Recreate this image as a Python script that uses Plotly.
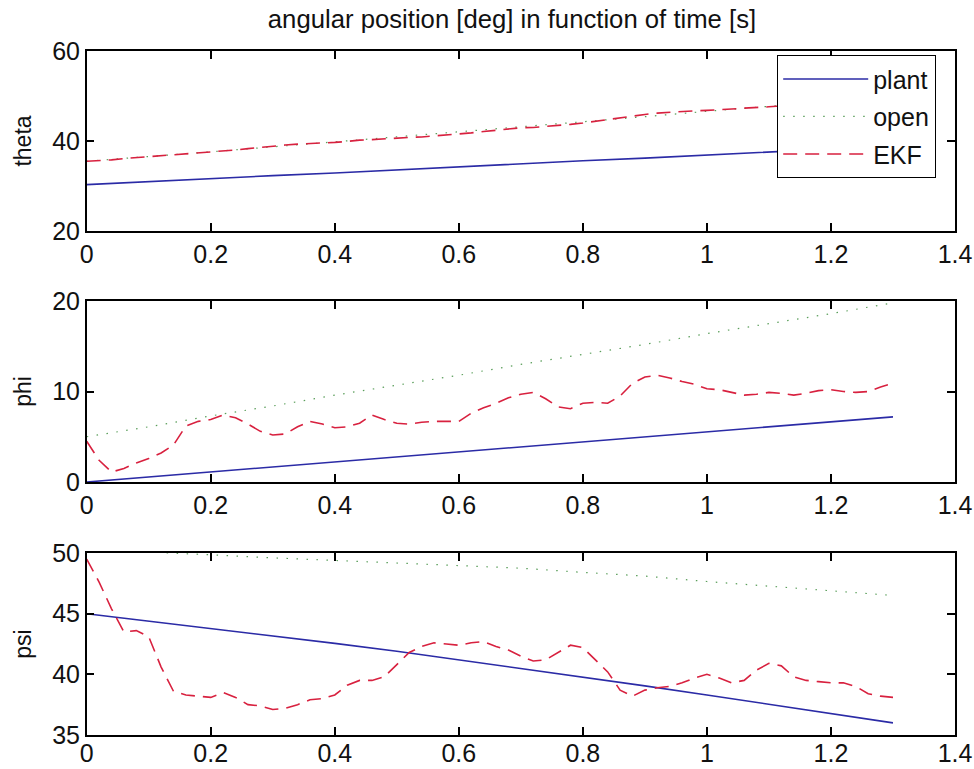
import plotly.graph_objects as go

# ---------------- data ----------------
t = [0.00, 0.02, 0.04, 0.06, 0.08, 0.10, 0.12, 0.14, 0.16, 0.18,
     0.20, 0.22, 0.24, 0.26, 0.28, 0.30, 0.32, 0.34, 0.36, 0.38,
     0.40, 0.42, 0.44, 0.46, 0.48, 0.50, 0.52, 0.54, 0.56, 0.58,
     0.60, 0.62, 0.64, 0.66, 0.68, 0.70, 0.72, 0.74, 0.76, 0.78,
     0.80, 0.82, 0.84, 0.86, 0.88, 0.90, 0.92, 0.94, 0.96, 0.98,
     1.00, 1.02, 1.04, 1.06, 1.08, 1.10, 1.12, 1.14, 1.16, 1.18,
     1.20, 1.22, 1.24, 1.26, 1.28, 1.30]

t_coarse = [0.0, 0.1, 0.2, 0.3, 0.4, 0.5, 0.6, 0.7, 0.8, 0.9, 1.0, 1.1, 1.2, 1.3]

theta_plant = [30.3, 31.0, 31.6, 32.3, 32.9, 33.6, 34.3, 34.9, 35.6, 36.2, 36.9, 37.6, 38.2, 38.9]
theta_open = [35.5, 36.5, 37.6, 38.7, 39.8, 40.9, 42.0, 43.1, 44.2, 45.4, 46.6, 47.7, 48.8, 49.9]
theta_ekf = [35.5, 35.6, 35.8, 36.1, 36.3, 36.5, 36.7, 36.9, 37.1, 37.4,
             37.6, 37.8, 38.0, 38.3, 38.6, 38.8, 39.1, 39.3, 39.4, 39.6,
             39.7, 39.9, 40.2, 40.3, 40.5, 40.6, 40.8, 40.9, 41.1, 41.3,
             41.5, 41.8, 42.1, 42.4, 42.7, 42.95, 43.0, 43.2, 43.4, 43.7,
             44.0, 44.4, 44.8, 45.1, 45.5, 45.9, 46.2, 46.4, 46.5, 46.7,
             46.8, 46.9, 47.1, 47.3, 47.4, 47.6, 47.8, 48.0, 48.1, 48.3,
             48.5, 48.6, 48.8, 48.9, 49.1, 49.2]

phi_plant = [0.0, 0.55, 1.1, 1.65, 2.2, 2.75, 3.3, 3.9, 4.45, 5.0, 5.55, 6.1, 6.65, 7.2]
phi_open = [5.0, 6.1, 7.3, 8.4, 9.6, 10.7, 11.8, 13.0, 14.1, 15.2, 16.4, 17.5, 18.6, 19.8]
phi_ekf = [4.5, 2.4, 1.1, 1.5, 2.1, 2.6, 3.2, 4.1, 6.2, 6.7,
           6.9, 7.4, 7.1, 6.4, 5.6, 5.2, 5.3, 6.1, 6.7, 6.4,
           6.0, 6.1, 6.5, 7.4, 6.9, 6.5, 6.4, 6.6, 6.7, 6.7,
           6.7, 7.6, 8.2, 8.7, 9.3, 9.7, 9.9, 9.2, 8.3, 8.1,
           8.7, 8.8, 8.7, 9.5, 10.9, 11.6, 11.8, 11.5, 11.1, 10.8,
           10.3, 10.2, 9.9, 9.6, 9.7, 9.9, 9.8, 9.6, 9.8, 10.1,
           10.2, 10.0, 9.9, 10.0, 10.5, 10.9]

psi_plant = [45.0, 44.4, 43.8, 43.2, 42.55, 41.9, 41.2, 40.5, 39.8, 39.05, 38.3, 37.55, 36.8, 36.0]
psi_open = [50.3, 50.1, 49.85, 49.6, 49.4, 49.2, 49.0, 48.75, 48.4, 48.1, 47.65, 47.25, 46.85, 46.5]
psi_ekf = [49.5, 47.6, 45.4, 43.5, 43.6, 43.1, 40.6, 38.6, 38.3, 38.2,
           38.1, 38.5, 38.1, 37.5, 37.4, 37.1, 37.2, 37.5, 37.9, 38.0,
           38.3, 39.1, 39.5, 39.5, 39.8, 40.8, 41.8, 42.3, 42.6, 42.5,
           42.4, 42.6, 42.7, 42.3, 42.0, 41.5, 41.1, 41.2, 41.8, 42.4,
           42.2, 41.2, 40.2, 38.7, 38.2, 38.7, 38.9, 39.0, 39.3, 39.7,
           40.0, 39.7, 39.3, 39.5, 40.35, 40.9, 40.7, 39.8, 39.5, 39.4,
           39.3, 39.3, 39.0, 38.4, 38.2, 38.1]

title_text = "angular position [deg] in function of time [s]"
series_names = ["plant", "open", "EKF"]
y_titles = ["theta", "phi", "psi"]
y_ranges = [[20, 60], [0, 20], [35, 50]]
y_ticks = [[20, 40, 60], [0, 10, 20], [35, 40, 45, 50]]
x_ticks = [0, 0.2, 0.4, 0.6, 0.8, 1.0, 1.2, 1.4]

# ---------------- styles ----------------
C_PLANT = "#2b2ba6"
C_OPEN = "#5a9e5a"
C_EKF = "#d8213f"
FONT = "Liberation Sans, Arial, sans-serif"

W, H = 974, 769
# pixel boxes of the three axes (left, right, top, bottom)
x_left, x_right = 86.7, 955
boxes = [(51, 231), (301, 482), (553, 735)]

fig = go.Figure()

panels = [
    (theta_plant, theta_open, theta_ekf),
    (phi_plant, phi_open, phi_ekf),
    (psi_plant, psi_open, psi_ekf),
]

for i, (pl, op, ek) in enumerate(panels):
    xa = "x" if i == 0 else f"x{i+1}"
    ya = "y" if i == 0 else f"y{i+1}"
    show = i == 0
    fig.add_trace(go.Scatter(x=t_coarse, y=pl, mode="lines", name=series_names[0],
                             line=dict(color=C_PLANT, width=1.6),
                             xaxis=xa, yaxis=ya, showlegend=show, legendgroup="a"))
    fig.add_trace(go.Scatter(x=t_coarse, y=op, mode="lines", name=series_names[1],
                             line=dict(color=C_OPEN, width=1.2, dash="1.5px,8.5px"),
                             xaxis=xa, yaxis=ya, showlegend=show, legendgroup="b"))
    fig.add_trace(go.Scatter(x=t, y=ek, mode="lines", name=series_names[2],
                             line=dict(color=C_EKF, width=1.6, dash="14px,8px"),
                             xaxis=xa, yaxis=ya, showlegend=show, legendgroup="c"))

axis_common = dict(showline=True, linecolor="black", linewidth=1.5, mirror="ticks",
                   ticks="inside", ticklen=8, tickwidth=1.5, tickcolor="black",
                   showgrid=False, zeroline=False, automargin=False,
                   tickfont=dict(family=FONT, size=25, color="#111"))

layout = dict(
    width=W, height=H,
    margin=dict(l=0, r=0, t=0, b=0, autoexpand=False),
    paper_bgcolor="white", plot_bgcolor="white",
    showlegend=True,
    title=dict(text=title_text, x=512 / W, xanchor="center",
               xref="paper", y=1 - 19 / H, yref="container", yanchor="middle",
               automargin=False,
               font=dict(family=FONT, size=25.7, color="#111")),
    legend=dict(x=936 / W, xanchor="right", y=1 - 55 / H, yanchor="top",
                bgcolor="white", bordercolor="black", borderwidth=1.2,
                font=dict(family=FONT, size=25, color="#111"),
                tracegroupgap=2, itemwidth=85),
)

for i, (top, bot) in enumerate(boxes):
    sfx = "" if i == 0 else str(i + 1)
    layout["xaxis" + sfx] = dict(axis_common, domain=[x_left / W, x_right / W],
                                 range=[0, 1.4], tickvals=x_ticks,
                                 anchor="y" + sfx,
                                 ticklabelstandoff=(-5 if i == 2 else 0))
    layout["yaxis" + sfx] = dict(axis_common, domain=[1 - bot / H, 1 - top / H],
                                 range=y_ranges[i], tickvals=y_ticks[i],
                                 anchor="x" + sfx,
                                 title=dict(text=y_titles[i], standoff=14,
                                            font=dict(family=FONT, size=23, color="#111")))

fig.update_layout(**layout)
fig.write_html("out.html")
